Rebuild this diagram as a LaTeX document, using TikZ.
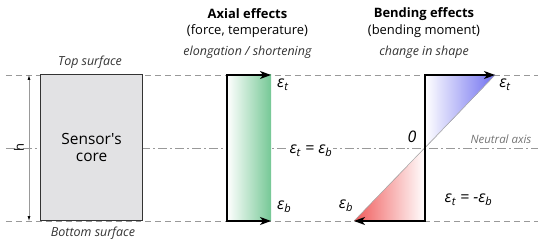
\documentclass[tikz,border=0pt]{standalone}
\usepackage{fontspec}
\setmainfont{Open Sans}
\usetikzlibrary{arrows.meta}
\definecolor{grn}{RGB}{118,200,150}
\definecolor{blu}{RGB}{112,112,240}
\definecolor{rd}{RGB}{240,90,90}
\definecolor{coregray}{RGB}{226,226,228}
\newcommand{\epst}{ε\textsubscript{t}}
\newcommand{\epsb}{ε\textsubscript{b}}
\tikzset{
  guide/.style={draw=black!40,line width=.7pt,dash pattern=on 6pt off 4pt},
  axisln/.style={draw=black!40,line width=.7pt,dash pattern=on 9pt off 3pt on 2pt off 3pt},
  corebox/.style={rectangle,draw=black!80,fill=coregray,line width=1.2pt,inner sep=0pt,
    align=center,font=\fontsize{15.5}{17.5}\selectfont},
  strn/.style={-{Stealth[length=11pt,width=8pt,inset=3pt]},line width=1.3pt,draw=black},
  dim/.style={{Latex[length=5pt,width=3pt,color=black]}-{Latex[length=5pt,width=3pt,color=black]},
    draw=black!40,line width=.7pt},
  diag/.style={draw=black!30,line width=.5pt},
  ttl/.style={font=\fontsize{13}{15}\selectfont\bfseries},
  sub/.style={font=\fontsize{13}{15}\selectfont},
  note/.style={font=\fontsize{12.5}{14}\selectfont\itshape,text=black!80},
  lb/.style={font=\fontsize{13}{15}\selectfont},
  eps/.style={font=\fontsize{16}{18}\selectfont\itshape,inner sep=1pt},
}
\begin{document}
\begin{tikzpicture}[x=50bp,y=50bp]
\useasboundingbox (0,0) rectangle (11,4.92);
% ---- guide lines: top, bottom, neutral axis
\coordinate (gtl) at (0.12,3.42); \coordinate (gtr) at (10.76,3.42);
\coordinate (gbl) at (0.12,0.50); \coordinate (gbr) at (10.76,0.50);
\coordinate (gnl) at (0.12,1.96); \coordinate (gnr) at (10.76,1.96);
\draw[guide] (gtl)--(gtr) (gbl)--(gbr);
\draw[axisln] (gnl)--(gnr);
% ---- sensor's core
\begin{scope}
  \node[corebox,minimum width=102bp,minimum height=146bp,anchor=south west] (core) at (0.80,0.50) {Sensor\textquotesingle s\\core};
  \coordinate (ht) at (0.58,3.42); \coordinate (hb) at (0.58,0.50);
  \draw[dim] (ht)--(hb);
  \node[lb,rotate=90] (hlab) at (0.38,1.96) {h};
  \node[note] (tops) at (1.80,3.68) {Top surface};
  \node[note] (bots) at (1.86,0.26) {Bottom surface};
\end{scope}
% ---- axial effects
\begin{scope}
  \node[ttl] (axt) at (4.95,4.64) {Axial effects};
  \node[sub] (axs) at (4.95,4.30) {(force, temperature)};
  \node[note] (axn) at (4.95,3.88) {elongation / shortening};
  \coordinate (atl) at (4.54,3.42); \coordinate (atr) at (5.42,3.42);
  \coordinate (abl) at (4.54,0.50); \coordinate (abr) at (5.42,0.50);
  \fill[left color=white,right color=grn] (atl) rectangle (abr);
  \draw[strn] (abl)--(atl)--(atr);
  \draw[strn] (atl)--(abl)--(abr);
  \node[eps,anchor=west] (aet) at (5.52,3.22) {\epst};
  \node[eps,anchor=west] (aeb) at (5.52,0.78) {\epsb};
  \node[eps,fill=white] (aeq) at (6.22,1.90) {\epst{} = \epsb};
\end{scope}
% ---- bending effects
\begin{scope}
  \node[ttl] (bdt) at (8.48,4.64) {Bending effects};
  \node[sub] (bds) at (8.48,4.30) {(bending moment)};
  \node[note] (bdn) at (8.48,3.88) {change in shape};
  \coordinate (bt) at (8.50,3.42); \coordinate (btr) at (9.90,3.42);
  \coordinate (bb) at (8.50,0.50); \coordinate (bbl) at (7.08,0.50);
  \coordinate (bn) at (8.50,1.96);
  \fill[left color=white,right color=blu] (bt)--(btr)--(bn)--cycle;
  \fill[left color=rd,right color=white] (bn)--(bb)--(bbl)--cycle;
  \draw[diag] (bbl)--(btr);
  \draw[strn] (bb)--(bt)--(btr);
  \draw[strn] (bt)--(bb)--(bbl);
  \node[eps] (zero) at (8.24,2.18) {0};
  \node[note,font=\fontsize{11.5}{13}\selectfont\itshape,text=black!55] (neut) at (10.02,2.14) {Neutral axis};
  \node[eps] (bet) at (10.10,3.22) {\epst};
  \node[eps] (beb) at (6.92,0.80) {\epsb};
  \node[eps] (beq) at (9.37,0.92) {\epst{} = -\epsb};
\end{scope}
\end{tikzpicture}
\end{document}
